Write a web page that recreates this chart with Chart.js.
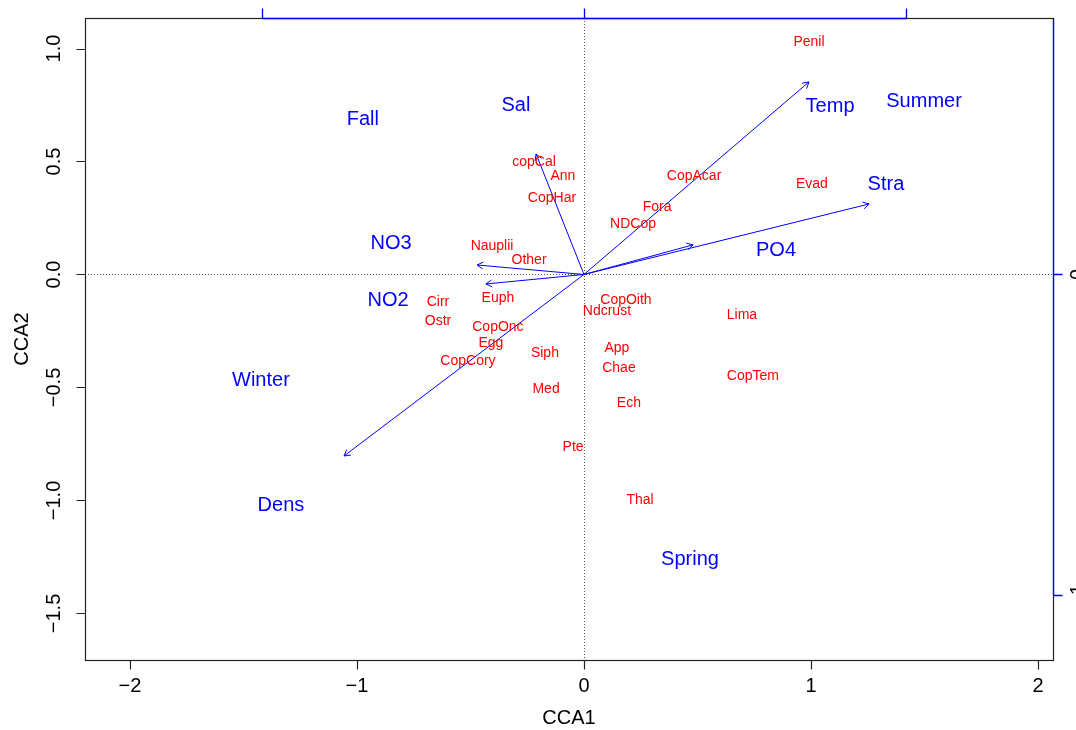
<!DOCTYPE html>
<html>
<head>
<meta charset="utf-8">
<title>CCA biplot</title>
<script src="https://cdn.jsdelivr.net/npm/chart.js@4.4.0/dist/chart.umd.min.js"></script>
<style>
  html, body { margin: 0; padding: 0; background: #fff; }
  #wrap { width: 1076px; height: 730px; }
</style>
</head>
<body>
<div id="wrap"><canvas id="cca" width="1076" height="730"></canvas></div>
<script>
// species scores (red labels)
const spNames = ['Penil', 'copCal', 'Ann', 'CopAcar', 'Evad', 'CopHar', 'Fora', 'NDCop',
  'Nauplii', 'Other', 'Euph', 'Cirr', 'Ostr', 'CopOith', 'Ndcrust', 'Lima', 'CopOnc',
  'Egg', 'Siph', 'App', 'CopCory', 'Chae', 'CopTem', 'Med', 'Ech', 'Pte', 'Thal'];
const spX = [0.991, -0.220, -0.093, 0.485, 1.004, -0.141, 0.322, 0.216,
  -0.405, -0.242, -0.379, -0.643, -0.643, 0.185, 0.101, 0.696, -0.379,
  -0.410, -0.172, 0.145, -0.511, 0.154, 0.744, -0.167, 0.198, -0.048, 0.247];
const spY = [1.029, 0.498, 0.436, 0.436, 0.400, 0.338, 0.299, 0.223,
  0.126, 0.064, -0.104, -0.122, -0.206, -0.113, -0.162, -0.179, -0.232,
  -0.303, -0.347, -0.325, -0.383, -0.414, -0.449, -0.507, -0.569, -0.763, -1.000];

// environmental vectors: arrow tips and where their names sit
const envNames = ['Temp', 'Stra', 'PO4', 'Sal', 'NO3', 'NO2', 'Dens'];
const envTipX = [0.991, 1.256, 0.480, -0.211, -0.471, -0.432, -1.057];
const envTipY = [0.852, 0.312, 0.131, 0.533, 0.042, -0.042, -0.803];
const envLabX = [1.084, 1.330, 0.846, -0.300, -0.850, -0.863, -1.335];
const envLabY = [0.743, 0.400, 0.108, 0.750, 0.139, -0.113, -1.024];

// season centroids
const seasonNames = ['Fall', 'Summer', 'Winter', 'Spring'];
const seasonX = [-0.974, 1.498, -1.423, 0.467];
const seasonY = [0.688, 0.767, -0.471, -1.259];

// axis ticks
const xTicks = [-2, -1, 0, 1, 2];
const yTicks = [-1.5, -1.0, -0.5, 0.0, 0.5, 1.0];
const biplotTicks = [-1, 0, 1];
const biplotMult = 1.417;   // arrow axis units per plot unit

const FONT = '"Liberation Sans", Arial, Helvetica, sans-serif';
const BLUE = '#0000ff';
const RED = '#ff0000';

function fmtTick(v, digits) {
  const s = v.toFixed(digits);
  return s.replace('-', '\u2212');
}

const arrowSets = envNames.map((n, i) => ({
  label: n,
  data: [{ x: 0, y: 0 }, { x: envTipX[i], y: envTipY[i] }],
  showLine: true,
  borderColor: BLUE,
  borderWidth: 1,
  pointRadius: 0,
  arrow: true
}));

const textSets = [
  { label: 'species', data: spNames.map((n, i) => ({ x: spX[i], y: spY[i] })),
    names: spNames, color: RED, size: 14, pointRadius: 0 },
  { label: 'envLabels', data: envNames.map((n, i) => ({ x: envLabX[i], y: envLabY[i] })),
    names: envNames, color: BLUE, size: 20, pointRadius: 0 },
  { label: 'seasons', data: seasonNames.map((n, i) => ({ x: seasonX[i], y: seasonY[i] })),
    names: seasonNames, color: BLUE, size: 20, pointRadius: 0 }
];

const frame = {
  id: 'frame',
  beforeDatasetsDraw(chart) {
    const { ctx, chartArea: a, scales: { x, y } } = chart;
    ctx.save();
    ctx.strokeStyle = '#555';
    ctx.lineWidth = 1;
    ctx.setLineDash([1, 2]);
    const y0 = Math.round(y.getPixelForValue(0)) + 0.5;
    const x0 = Math.round(x.getPixelForValue(0)) + 0.5;
    ctx.beginPath();
    ctx.moveTo(a.left, y0); ctx.lineTo(a.right, y0);
    ctx.moveTo(x0, a.top); ctx.lineTo(x0, a.bottom);
    ctx.stroke();
    ctx.restore();
  },
  afterDatasetsDraw(chart) {
    const { ctx, chartArea: a, scales: { x, y } } = chart;
    ctx.save();

    // arrowheads
    chart.data.datasets.forEach((ds, i) => {
      if (!ds.arrow) return;
      const pts = chart.getDatasetMeta(i).data;
      const p0 = pts[0], p1 = pts[1];
      const ang = Math.atan2(p1.y - p0.y, p1.x - p0.x);
      const len = 7, spread = Math.PI / 6;
      ctx.strokeStyle = BLUE;
      ctx.lineWidth = 1;
      ctx.beginPath();
      ctx.moveTo(p1.x - len * Math.cos(ang - spread), p1.y - len * Math.sin(ang - spread));
      ctx.lineTo(p1.x, p1.y);
      ctx.lineTo(p1.x - len * Math.cos(ang + spread), p1.y - len * Math.sin(ang + spread));
      ctx.stroke();
    });

    // text labels
    ctx.textAlign = 'center';
    ctx.textBaseline = 'middle';
    chart.data.datasets.forEach((ds, i) => {
      if (!ds.names) return;
      ctx.fillStyle = ds.color;
      ctx.font = ds.size + 'px ' + FONT;
      chart.getDatasetMeta(i).data.forEach((pt, j) => {
        ctx.fillText(ds.names[j], pt.x, pt.y);
      });
    });

    // plot box
    const L = a.left + 0.5, R = a.right + 0.5, T = a.top + 0.5, B = a.bottom + 0.5;
    ctx.strokeStyle = '#222';
    ctx.lineWidth = 1.2;
    ctx.strokeRect(L, T, R - L, B - T);

    // bottom and left axes
    ctx.fillStyle = '#000';
    ctx.font = '20px ' + FONT;
    ctx.beginPath();
    xTicks.forEach(v => {
      const px = Math.round(x.getPixelForValue(v)) + 0.5;
      ctx.moveTo(px, B); ctx.lineTo(px, B + 9);
    });
    yTicks.forEach(v => {
      const py = Math.round(y.getPixelForValue(v)) + 0.5;
      ctx.moveTo(L, py); ctx.lineTo(L - 9, py);
    });
    ctx.stroke();
    xTicks.forEach(v => {
      ctx.fillText(fmtTick(v, 0), x.getPixelForValue(v), B + 26);
    });
    yTicks.forEach(v => {
      ctx.save();
      ctx.translate(L - 31, y.getPixelForValue(v));
      ctx.rotate(-Math.PI / 2);
      ctx.fillText(fmtTick(v, 1), 0, 0);
      ctx.restore();
    });
    ctx.fillText('CCA1', (a.left + a.right) / 2, 718);
    ctx.save();
    ctx.translate(22, (a.top + a.bottom) / 2);
    ctx.rotate(-Math.PI / 2);
    ctx.fillText('CCA2', 0, 0);
    ctx.restore();

    // biplot axes on top and right
    const topPx = biplotTicks.map(v => Math.round(x.getPixelForValue(v * biplotMult)) + 0.5);
    const rightPx = biplotTicks.map(v => Math.round(y.getPixelForValue(v * biplotMult)) + 0.5);
    ctx.strokeStyle = BLUE;
    ctx.lineWidth = 1.3;
    ctx.beginPath();
    ctx.moveTo(topPx[0], T); ctx.lineTo(topPx[topPx.length - 1], T);
    topPx.forEach(px => { ctx.moveTo(px, T); ctx.lineTo(px, T - 10); });
    ctx.moveTo(R, rightPx[0]); ctx.lineTo(R, T);
    rightPx.forEach(py => {
      if (py < a.top) return;
      ctx.moveTo(R, py); ctx.lineTo(R + 9, py);
    });
    ctx.stroke();
    ctx.fillStyle = '#000';
    biplotTicks.forEach((v, j) => {
      ctx.fillText(fmtTick(v, 0), topPx[j], T - 31);
      if (rightPx[j] < a.top) return;
      ctx.save();
      ctx.translate(R + 25, rightPx[j]);
      ctx.rotate(-Math.PI / 2);
      ctx.fillText(fmtTick(v, 0), 0, 0);
      ctx.restore();
    });

    ctx.restore();
  }
};

new Chart(document.getElementById('cca'), {
  type: 'scatter',
  data: { datasets: [...arrowSets, ...textSets] },
  options: {
    responsive: false,
    animation: false,
    devicePixelRatio: 1,
    layout: { padding: { top: 18, right: 23, left: 0, bottom: 0 } },
    plugins: { legend: { display: false }, tooltip: { enabled: false } },
    scales: {
      x: {
        type: 'linear', min: -2.198, max: 2.066,
        grid: { display: false }, border: { display: false },
        ticks: { display: false },
        afterFit(s) { s.height = 70; }
      },
      y: {
        type: 'linear', min: -1.706, max: 1.135,
        grid: { display: false }, border: { display: false },
        ticks: { display: false },
        afterFit(s) { s.height = undefined; s.width = 85; }
      }
    }
  },
  plugins: [frame]
});
</script>
</body>
</html>
